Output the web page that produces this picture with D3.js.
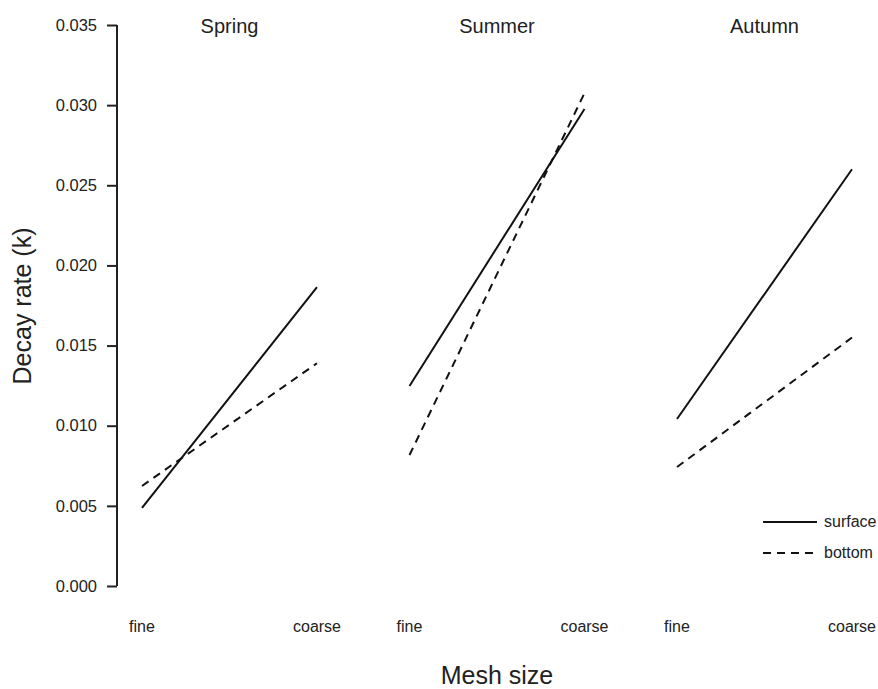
<!DOCTYPE html>
<html><head><meta charset="utf-8">
<script src="https://cdn.jsdelivr.net/npm/d3@7"></script>
<style>body{margin:0;background:#fff}text{font-family:"Liberation Sans",Arial,sans-serif;fill:#222}</style>
</head><body><svg id="c" width="878" height="689"></svg>
<script>
const seasons = ["Spring", "Summer", "Autumn"];
const meshSizes = ["fine", "coarse"];
const surface = [[0.00487, 0.01865], [0.01248, 0.02976], [0.01042, 0.0260]];
const bottom = [[0.00624, 0.0139], [0.00817, 0.03075], [0.00742, 0.0155]];
const yTicks = [0, 0.005, 0.010, 0.015, 0.020, 0.025, 0.030, 0.035];
const seriesNames = ["surface", "bottom"];

const svg = d3.select("#c");
const y = d3.scaleLinear().domain([0, 0.035]).range([586, 25]);
const panelX = d3.scalePoint().domain(seasons).range([142, 677]);
const panelW = 175;

// y axis
const yAxis = d3.axisLeft(y).tickValues(yTicks).tickFormat(d3.format(".3f")).tickSize(10).tickPadding(10);
const ga = svg.append("g").attr("transform", "translate(117,0)").call(yAxis);
ga.select(".domain").attr("stroke", "#222").attr("stroke-width", 2).attr("d", `M0,${y(0)}V${y(0.035)}`);
ga.selectAll(".tick line").attr("stroke", "#222").attr("stroke-width", 2);
ga.selectAll(".tick text").style("font-size", "16.5px").attr("fill", "#333").attr("font-family", "Liberation Sans, Arial, sans-serif");

svg.append("text").attr("transform", `translate(31,306) rotate(-90)`).attr("text-anchor", "middle")
  .style("font-size", "25px").text("Decay rate (k)");
svg.append("text").attr("x", 497).attr("y", 684).attr("text-anchor", "middle")
  .style("font-size", "25px").text("Mesh size");

const dashes = [null, "8,6"];
seasons.forEach((s, i) => {
  const x = d3.scalePoint().domain(meshSizes).range([panelX(s), panelX(s) + panelW]);
  const g = svg.append("g");
  g.append("text").attr("x", panelX(s) + panelW / 2).attr("y", 33).attr("text-anchor", "middle")
    .style("font-size", "20px").text(s);
  [surface, bottom].forEach((ser, k) => {
    const line = d3.line().x((d, j) => x(meshSizes[j])).y(d => y(d));
    g.append("path").attr("d", line(ser[i])).attr("fill", "none").attr("stroke", "#111")
      .attr("stroke-width", 2).attr("stroke-dasharray", dashes[k]);
  });
  meshSizes.forEach(m => {
    g.append("text").attr("x", x(m)).attr("y", 632).attr("text-anchor", "middle")
      .style("font-size", "16px").attr("fill", "#333").text(m);
  });
});

// legend
const lg = svg.append("g");
seriesNames.forEach((n, k) => {
  const ly = 522 + k * 31;
  lg.append("line").attr("x1", 763).attr("x2", 817).attr("y1", ly).attr("y2", ly)
    .attr("stroke", "#111").attr("stroke-width", 2).attr("stroke-dasharray", dashes[k]);
  lg.append("text").attr("x", 824).attr("y", ly + 5).style("font-size", "16px").attr("fill", "#333").text(n);
});
</script></body></html>
